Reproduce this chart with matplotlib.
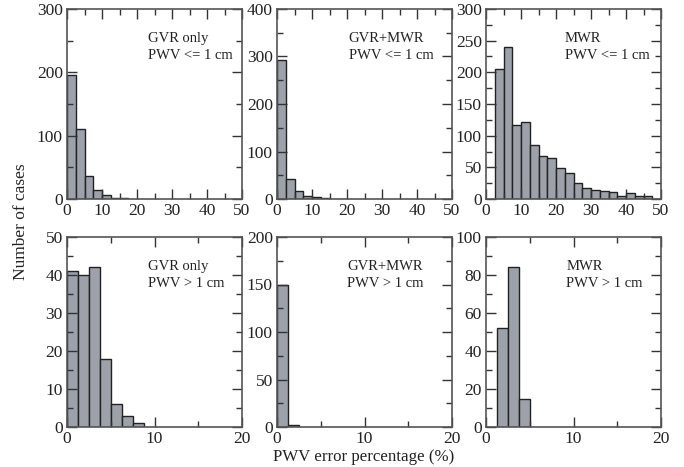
import numpy as np
import matplotlib
matplotlib.use("Agg")
from matplotlib import pyplot as plt
from matplotlib.ticker import MultipleLocator

plt.rcParams['font.family'] = ['Liberation Serif', 'DejaVu Serif']

# Histogramas: contagens por classe (largura 2.5 % em cima, 1.25 % embaixo)
gvr_low = [195, 110, 37, 15, 7, 1, 1]
gvr_mwr_low = [293, 42, 16, 7, 4, 2, 1, 1]
mwr_low = [205, 240, 117, 121, 86, 68, 65, 49, 41, 26, 18, 15, 12, 11, 4, 9, 4, 4]
gvr_high = [41, 40, 42, 18, 6, 3, 1]
gvr_mwr_high = [150, 2]
mwr_high = [52, 84, 15]

# Início da primeira classe de cada histograma
start_low = [0.0, 0.0, 2.5]
start_high = [0.0, 0.0, 1.25]
bin_low = 2.5
bin_high = 1.25

labels_top = ["GVR only\nPWV <= 1 cm", "GVR+MWR\nPWV <= 1 cm", "MWR\nPWV <= 1 cm"]
labels_bot = ["GVR only\nPWV > 1 cm", "GVR+MWR\nPWV > 1 cm", "MWR\nPWV > 1 cm"]

ylim_top = [300, 400, 300]
ylim_bot = [50, 200, 100]
ymaj_top = [100, 100, 50]
ymaj_bot = [10, 50, 20]

fig = plt.figure(figsize=(6.84, 4.67), dpi=100)

lefts = [67, 277, 486]
W, H = 684.0, 467.0
aw, ah = 175 / W, 190 / H
text_x_top = [0.46, 0.41, 0.45]
text_x_bot = [0.46, 0.40, 0.46]

bar_color = '#9ca1aa'


def desenhar(ax, counts, start, width, xmax, ymax, ymaj, texto, tx):
    edges = start + width * np.arange(len(counts))
    ax.bar(edges, counts, width=width, align='edge', color=bar_color,
           edgecolor='#222222', linewidth=1.0)
    ax.set_xlim(0, xmax)
    ax.set_ylim(0, ymax)
    ax.xaxis.set_major_locator(MultipleLocator(10))
    ax.xaxis.set_minor_locator(MultipleLocator(5))
    ax.yaxis.set_major_locator(MultipleLocator(ymaj))
    ax.yaxis.set_minor_locator(MultipleLocator(ymaj / 2))
    ax.tick_params(which='both', direction='in', top=True, right=True,
                   labelsize=12.5, colors='#333333', labelcolor='#222222', width=1.0)
    ax.tick_params(which='major', length=7, pad=3)
    ax.tick_params(which='minor', length=4)
    for s in ax.spines.values():
        s.set_linewidth(1.2)
        s.set_color('#555555')
    ax.text(tx, 0.88, texto, transform=ax.transAxes, ha='left', va='top',
            fontsize=10.5, linespacing=1.45, color='#222222')


dados_top = [gvr_low, gvr_mwr_low, mwr_low]
dados_bot = [gvr_high, gvr_mwr_high, mwr_high]

for i in range(3):
    ax = fig.add_axes([lefts[i] / W, (H - 199) / H, aw, ah])
    desenhar(ax, dados_top[i], start_low[i], bin_low, 50, ylim_top[i],
             ymaj_top[i], labels_top[i], text_x_top[i])
    ax = fig.add_axes([lefts[i] / W, (H - 427) / H, aw, ah])
    desenhar(ax, dados_bot[i], start_high[i], bin_high, 20, ylim_bot[i],
             ymaj_bot[i], labels_bot[i], text_x_bot[i])

fig.text(21 / W, 1 - 222 / H, "Number of cases", rotation=90, ha='center',
         va='center', fontsize=12.5, color='#222222')
fig.text(364 / W, 1 - 457 / H, "PWV error percentage (%)", ha='center',
         va='center', fontsize=12.2, color='#222222')

fig.savefig("out.png", dpi=100)
